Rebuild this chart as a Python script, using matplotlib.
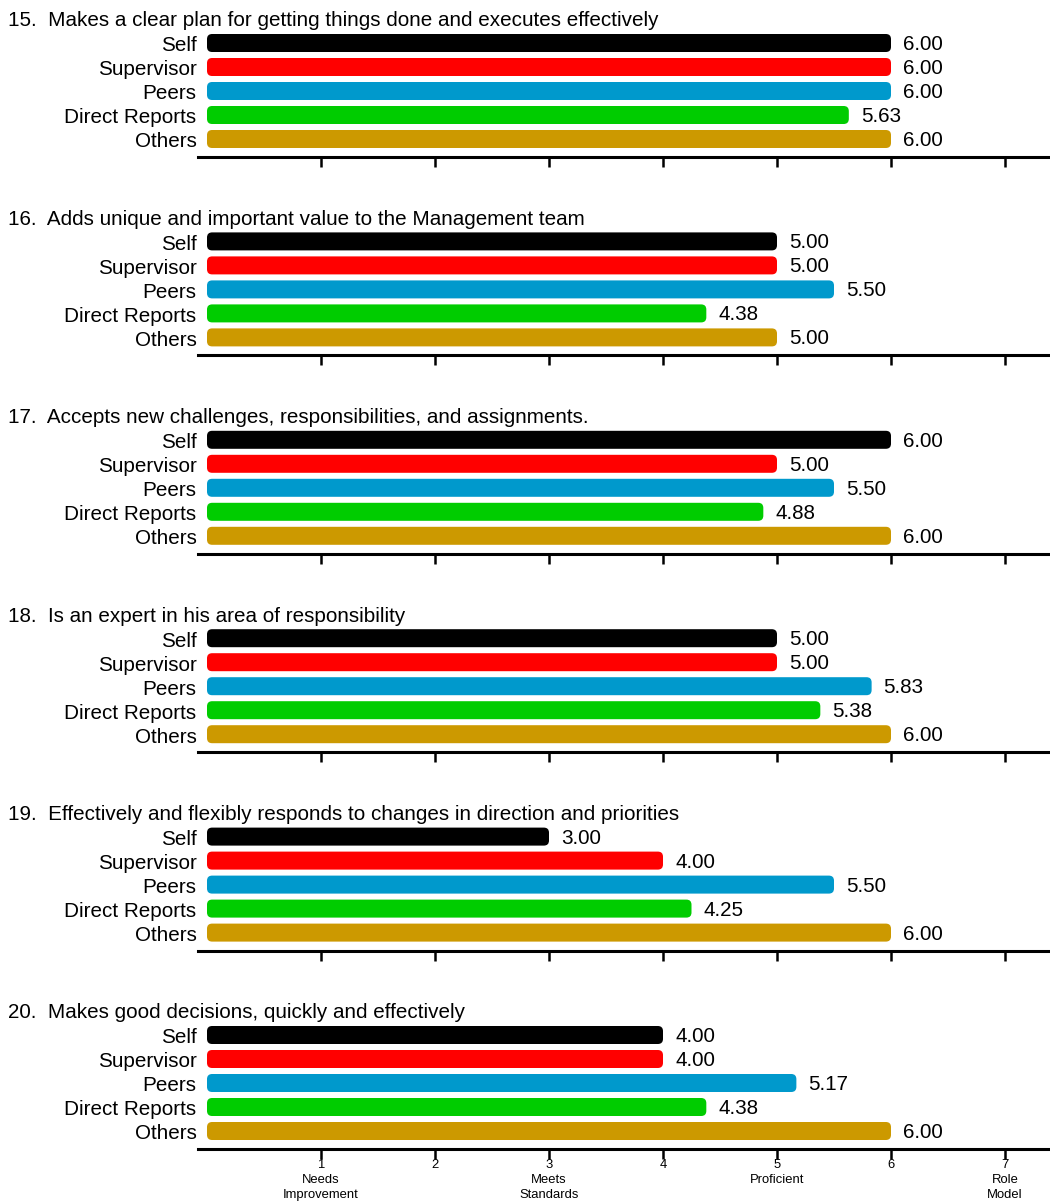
import numpy as np
import matplotlib.pyplot as plt
from matplotlib.patches import FancyBboxPatch

plt.rcParams['font.family'] = ['Liberation Sans', 'DejaVu Sans']

questions = [
    "15.  Makes a clear plan for getting things done and executes effectively",
    "16.  Adds unique and important value to the Management team",
    "17.  Accepts new challenges, responsibilities, and assignments.",
    "18.  Is an expert in his area of responsibility",
    "19.  Effectively and flexibly responds to changes in direction and priorities",
    "20.  Makes good decisions, quickly and effectively",
]
raters = ["Self", "Supervisor", "Peers", "Direct Reports", "Others"]
colors = ["#000000", "#FF0000", "#0099CC", "#00CC00", "#CC9900"]

self_scores = [6.00, 5.00, 6.00, 5.00, 3.00, 4.00]
supervisor_scores = [6.00, 5.00, 5.00, 5.00, 4.00, 4.00]
peers_scores = [6.00, 5.50, 5.50, 5.83, 5.50, 5.17]
direct_scores = [5.63, 4.38, 4.88, 5.38, 4.25, 4.38]
others_scores = [6.00, 5.00, 6.00, 6.00, 6.00, 6.00]

scale_ticks = [1, 2, 3, 4, 5, 6, 7]
scale_labels = ["1\nNeeds\nImprovement", "2", "3\nMeets\nStandards", "4",
                "5\nProficient", "6", "7\nRole\nModel"]

W, H = 1050, 1202
fig = plt.figure(figsize=(W / 100, H / 100), dpi=100)

# pixel geometry
x0_px, x1_px = 198, 1050
unit_px = 114.0
zero_px = 207
row_px = 24.0
stride = 198.4
xmin = (x0_px - zero_px) / unit_px
xmax = (x1_px - zero_px) / unit_px
fs = 14.9

scores = np.array([self_scores, supervisor_scores, peers_scores,
                   direct_scores, others_scores]).T

for i, q in enumerate(questions):
    self_y = 43 + i * stride
    top_px = self_y - 0.5 * row_px
    bot_px = self_y + 4.75 * row_px
    ax = fig.add_axes([x0_px / W, 1 - bot_px / H, (x1_px - x0_px) / W,
                       (bot_px - top_px) / H])
    ax.set_xlim(xmin, xmax)
    ax.set_ylim(4.75, -0.5)

    aspect = unit_px / row_px
    for j, v in enumerate(scores[i]):
        bar = FancyBboxPatch((0, j - 0.375), v, 0.75,
                             boxstyle="round,pad=0,rounding_size=0.045",
                             mutation_aspect=aspect,
                             fc=colors[j], ec="none")
        ax.add_patch(bar)
        ax.text(v + 12 / unit_px, j + 0.06, f"{v:.2f}", va="center",
                ha="left", fontsize=fs)

    ax.set_yticks(np.arange(len(raters)) + 0.04)
    ax.set_yticklabels(raters, fontsize=fs)
    ax.tick_params(axis="y", length=0, pad=1)
    for s in ["left", "right", "top"]:
        ax.spines[s].set_visible(False)
    ax.spines["bottom"].set_linewidth(2.2)
    ax.set_xticks(scale_ticks)
    ax.tick_params(axis="x", length=7.5, width=1.8, direction="out")
    if i == len(questions) - 1:
        ax.set_xticklabels(scale_labels, fontsize=9.4, linespacing=1.3)
        ax.tick_params(axis="x", pad=0)
    else:
        ax.set_xticklabels([])

    fig.text(8 / W, 1 - (self_y - 22) / H, q, fontsize=fs,
             ha="left", va="center")

fig.savefig("out.png", dpi=100)
